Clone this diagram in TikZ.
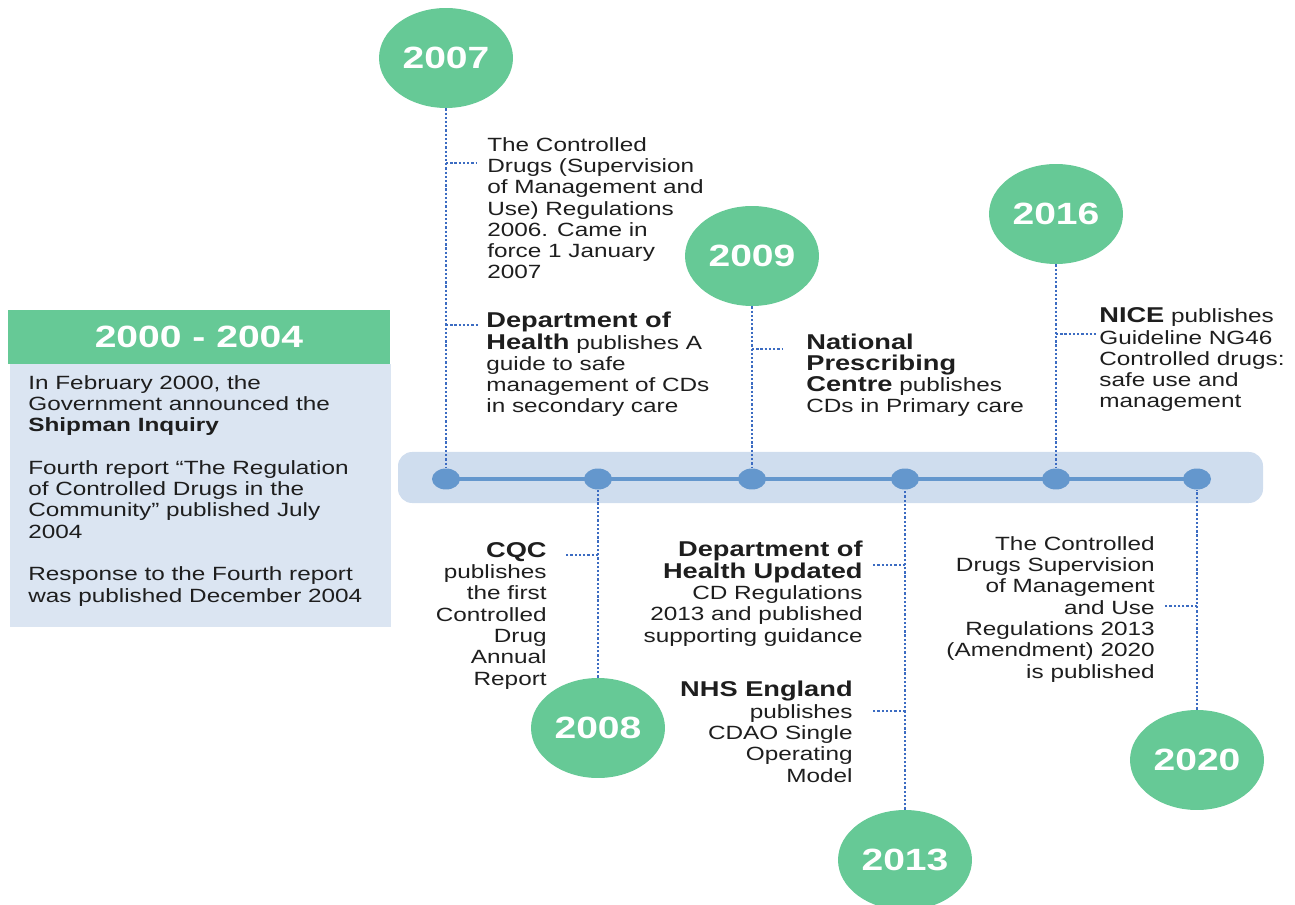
\documentclass[tikz,border=0pt]{standalone}
\usepackage{fontspec}
\setmainfont{Liberation Sans}[FakeStretch=1.27]
\usetikzlibrary{shapes.geometric,backgrounds}
\definecolor{TlGreen}{RGB}{102,201,150}
\definecolor{TlBand}{RGB}{207,221,238}
\definecolor{TlPanel}{RGB}{219,229,242}
\definecolor{TlLine}{RGB}{100,151,205}
\definecolor{TlDots}{RGB}{60,108,194}
\definecolor{TlInk}{RGB}{30,30,30}
\newcommand{\hd}[1]{{\fontsize{12.2}{12.1}\selectfont\bfseries #1}}
\tikzset{
  tl/year/.style={
    ellipse,
    fill=TlGreen,
    minimum width=2.68cm,
    minimum height=2cm,
    inner sep=0pt,
    text=white,
    font=\fontsize{17.5}{20}\selectfont\bfseries
  },
  tl/dot/.style={ellipse, fill=TlLine, minimum width=0.56cm, minimum height=0.42cm, inner sep=0pt},
  tl/line/.style={draw=TlLine, line width=2.8pt},
  tl/dots/.style={draw=TlDots, line width=1.6pt, dash pattern=on 1.3pt off 1.1pt},
  tl/branch/.style={tl/dots, shorten >=#1},
  tl/branch/.default=5pt,
  % text nodes sit on the baseline of their last line
  tl/text/.style={inner sep=0pt, text=TlInk, font=\fontsize{10.9}{12.1}\selectfont},
  tl/left/.style={tl/text, anchor=base west, align=left},
  tl/right/.style={tl/text, anchor=base east, align=right},
  tl/header/.style={
    fill=TlGreen,
    minimum width=7.64cm,
    minimum height=1.08cm,
    text=white,
    font=\fontsize{17.5}{20}\selectfont\bfseries
  },
  tl/panel/.style={fill=TlPanel, minimum width=7.62cm, minimum height=5.26cm, inner sep=0pt}
}

\begin{document}
\begin{tikzpicture}[x=0.02cm,y=-0.02cm]
  \useasboundingbox (0,0) rectangle (1295,905);

  % 2000-2004 panel
  \node[tl/panel] (panel) at (200.5,495.5) {};
  \node[tl/header] (hdr) at (199,337) {2000 - 2004};
  \node[tl/left] (t00) at (28,602) {In February 2000, the\\Government announced the\\\textbf{Shipman Inquiry}\\[12.1pt]Fourth report “The Regulation\\of Controlled Drugs in the\\Community” published July\\2004\\[12.1pt]Response to the Fourth report\\was published December 2004};

  % timeline points
  \node[tl/dot] (d07) at (446,479) {};
  \node[tl/dot] (d08) at (598,479) {};
  \node[tl/dot] (d09) at (752,479) {};
  \node[tl/dot] (d13) at (905,479) {};
  \node[tl/dot] (d16) at (1056,479) {};
  \node[tl/dot] (d20) at (1197,479) {};
  \begin{scope}[on background layer]
    \fill[TlBand, rounded corners=8pt] (398,452) rectangle (1263,503);
    \draw[tl/line] (d07.center) -- (d20.center);
  \end{scope}

  % years
  \node[tl/year] (y07) at (446,58) {2007};
  \node[tl/year] (y09) at (752,256) {2009};
  \node[tl/year] (y16) at (1056,214) {2016};
  \node[tl/year] (y08) at (598,728) {2008};
  \node[tl/year] (y13) at (905,860) {2013};
  \node[tl/year] (y20) at (1197,760) {2020};
  \foreach \yr in {07,09,16,08,13,20}
    \draw[tl/dots] (y\yr) -- (d\yr);

  % events above the line
  \node[tl/left] (t07a) at (487,279) {The Controlled\\Drugs (Supervision\\of Management and\\Use) Regulations\\2006. Came in\\force 1 January\\2007};
  \node[tl/left] (t07b) at (486,413) {\hd{Department of}\\\hd{Health} publishes A\\guide to safe\\management of CDs\\in secondary care};
  \node[tl/left] (t09) at (806,413) {\hd{National}\\\hd{Prescribing}\\\hd{Centre} publishes\\CDs in Primary care};
  \node[tl/left] (t16) at (1099,408) {\hd{NICE} publishes\\Guideline NG46\\Controlled drugs:\\safe use and\\management};

  % events below the line
  \node[tl/right] (t08) at (547,685) {\hd{CQC}\\publishes\\the first\\Controlled\\Drug\\Annual\\Report};
  \node[tl/right] (t13a) at (863,642) {\hd{Department of}\\\hd{Health Updated}\\CD Regulations\\2013 and published\\supporting guidance};
  \node[tl/right] (t13b) at (853,782) {\hd{NHS England}\\publishes\\CDAO Single\\Operating\\Model};
  \node[tl/right] (t20) at (1155,678) {The Controlled\\Drugs Supervision\\of Management\\and Use\\Regulations 2013\\(Amendment) 2020\\is published};

  % branches to the events
  \coordinate (b07a) at (446,163);
  \coordinate (b07b) at (446,325);
  \coordinate (b09) at (752,349);
  \coordinate (b16) at (1056,334);
  \coordinate (b08) at (598,555);
  \coordinate (b13a) at (905,565);
  \coordinate (b13b) at (905,711);
  \coordinate (b20) at (1197,606);
  \draw[tl/branch=5.7pt] (b07a) -- (b07a -| t07a.west);
  \draw[tl/branch=4.5pt] (b07b) -- (b07b -| t07b.west);
  \draw[tl/branch=13pt] (b09) -- (b09 -| t09.west);
  \draw[tl/branch=1pt] (b16) -- (b16 -| t16.west);
  \draw[tl/branch=10pt] (b08) -- (b08 -| t08.east);
  \draw[tl/branch=5pt] (b13a) -- (b13a -| t13a.east);
  \draw[tl/branch=11pt] (b13b) -- (b13b -| t13b.east);
  \draw[tl/branch=5.7pt] (b20) -- (b20 -| t20.east);
\end{tikzpicture}
\end{document}
